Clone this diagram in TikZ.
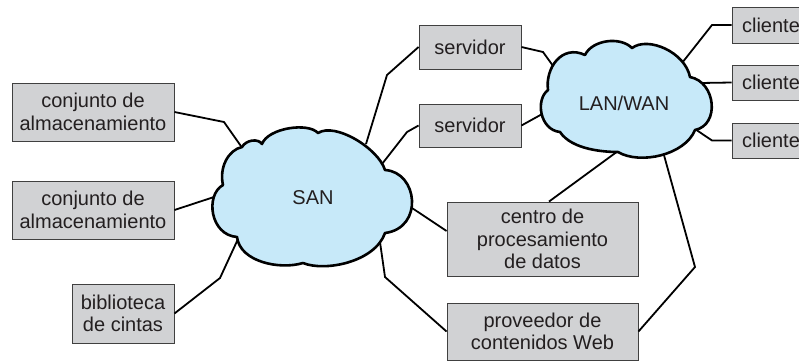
\documentclass[tikz,border=0pt]{standalone}
\usepackage{fontspec}
\setmainfont{Liberation Sans}
\definecolor{boxfill}{RGB}{209,210,212}
\definecolor{boxline}{RGB}{64,64,64}
\definecolor{cloudfill}{RGB}{199,233,249}
\definecolor{txt}{RGB}{35,31,32}
\tikzset{
  gbox/.style={draw=boxline, fill=boxfill, line width=0.9pt, inner sep=0pt, align=center,
    text=txt, font=\fontsize{20}{22.5}\selectfont},
  conn/.style={draw=black, line width=1.8pt, line join=miter},
  cloudshape/.style={draw=black, fill=cloudfill, line width=2.6pt, line join=round},
  cloudlabel/.style={text=txt, font=\fontsize{20}{24}\selectfont, inner sep=0pt}
}
\begin{document}
\begin{tikzpicture}[x=1pt,y=-1pt]
\useasboundingbox (0,0) rectangle (799,360);
\clip (0,0) rectangle (799,360);
% boxes
\node[gbox, minimum width=162pt, minimum height=58pt] (conj1) at (93,112) {conjunto de\\almacenamiento};
\node[gbox, minimum width=162pt, minimum height=58pt] (conj2) at (93,210) {conjunto de\\almacenamiento};
\node[gbox, minimum width=102pt, minimum height=59pt] (bib) at (123,313.5) {biblioteca\\de cintas};
\node[gbox, minimum width=102pt, minimum height=44pt] (serv1) at (470,47) {servidor};
\node[gbox, minimum width=102pt, minimum height=43pt] (serv2) at (470,125.5) {servidor};
\node[gbox, minimum width=78pt, minimum height=36pt] (cli1) at (771,25) {cliente};
\node[gbox, minimum width=78pt, minimum height=35pt] (cli2) at (771,82.5) {cliente};
\node[gbox, minimum width=78pt, minimum height=35pt] (cli3) at (771,140.5) {cliente};
\node[gbox, minimum width=191pt, minimum height=74pt] (centro) at (542.5,239) {centro de\\procesamiento\\de datos};
\node[gbox, minimum width=191pt, minimum height=57pt] (prov) at (542.5,331.5) {proveedor de\\contenidos Web};
% attachment points on clouds
\coordinate (sA) at (243,149);
\coordinate (sB) at (214,197);
\coordinate (sC) at (238,239);
\coordinate (sD) at (366,144);
\coordinate (sE) at (382,164);
\coordinate (sF) at (412,208);
\coordinate (sG) at (380,242);
\coordinate (lA) at (556,70);
\coordinate (lB) at (544,113);
\coordinate (lC) at (682,63);
\coordinate (lD) at (700,83);
\coordinate (lE) at (692,127);
\coordinate (lF) at (618,151);
\coordinate (lG) at (662,148);
% bends
\coordinate (b1) at (224,122);
\coordinate (b3) at (220,278);
\coordinate (b4) at (387,75);
\coordinate (b5) at (407,132);
\coordinate (b6) at (543,52);
\coordinate (b7) at (712,25);
\coordinate (b8) at (712,140.5);
\coordinate (b9) at (385,277);
\coordinate (b10) at (695,267);
% connectors
\draw[conn] (conj1.east) -- (b1) -- (sA);
\draw[conn] (conj2.east) -- (sB);
\draw[conn] (bib.east) -- (b3) -- (sC);
\draw[conn] (serv1.west) -- (b4) -- (sD);
\draw[conn] (serv2.west) -- (b5) -- (sE);
\draw[conn] (serv1.east) -- (b6) -- (lA);
\draw[conn] (serv2.east) -- (lB);
\draw[conn] (cli1.west) -- (b7) -- (lC);
\draw[conn] (cli2.west) -- (lD);
\draw[conn] (cli3.west) -- (b8) -- (lE);
\draw[conn] ([xshift=6.5pt]centro.north) -- (lF);
\draw[conn] ([yshift=8pt]centro.west) -- (sF);
\draw[conn] (prov.west) -- (b9) -- (sG);
\draw[conn] (prov.east) -- (b10) -- (lG);
% SAN cloud
\path[cloudshape] (223,185)
  .. controls (219,168) and (228,150) .. (242,147)
  .. controls (246,140) and (258,138) .. (262,144)
  .. controls (268,128) and (308,122) .. (318,133)
  .. controls (335,122) and (378,148) .. (385,170)
  .. controls (418,172) and (424,228) .. (385,233)
  .. controls (375,262) and (325,272) .. (303,263)
  .. controls (280,270) and (240,262) .. (237,237)
  .. controls (210,235) and (205,195) .. cycle;
% LAN/WAN cloud
\path[cloudshape] (548,90)
  .. controls (545,68) and (562,44) .. (585,55)
  .. controls (592,40) and (620,36) .. (632,48)
  .. controls (648,36) and (685,52) .. (690,77)
  .. controls (716,82) and (720,125) .. (695,130)
  .. controls (685,155) and (640,165) .. (618,152)
  .. controls (605,152) and (572,150) .. (560,132)
  .. controls (540,130) and (535,100) .. cycle;
\node[cloudlabel] (san) at (313,198) {SAN};
\node[cloudlabel] (lan) at (624,103) {LAN/WAN};
\end{tikzpicture}
\end{document}
